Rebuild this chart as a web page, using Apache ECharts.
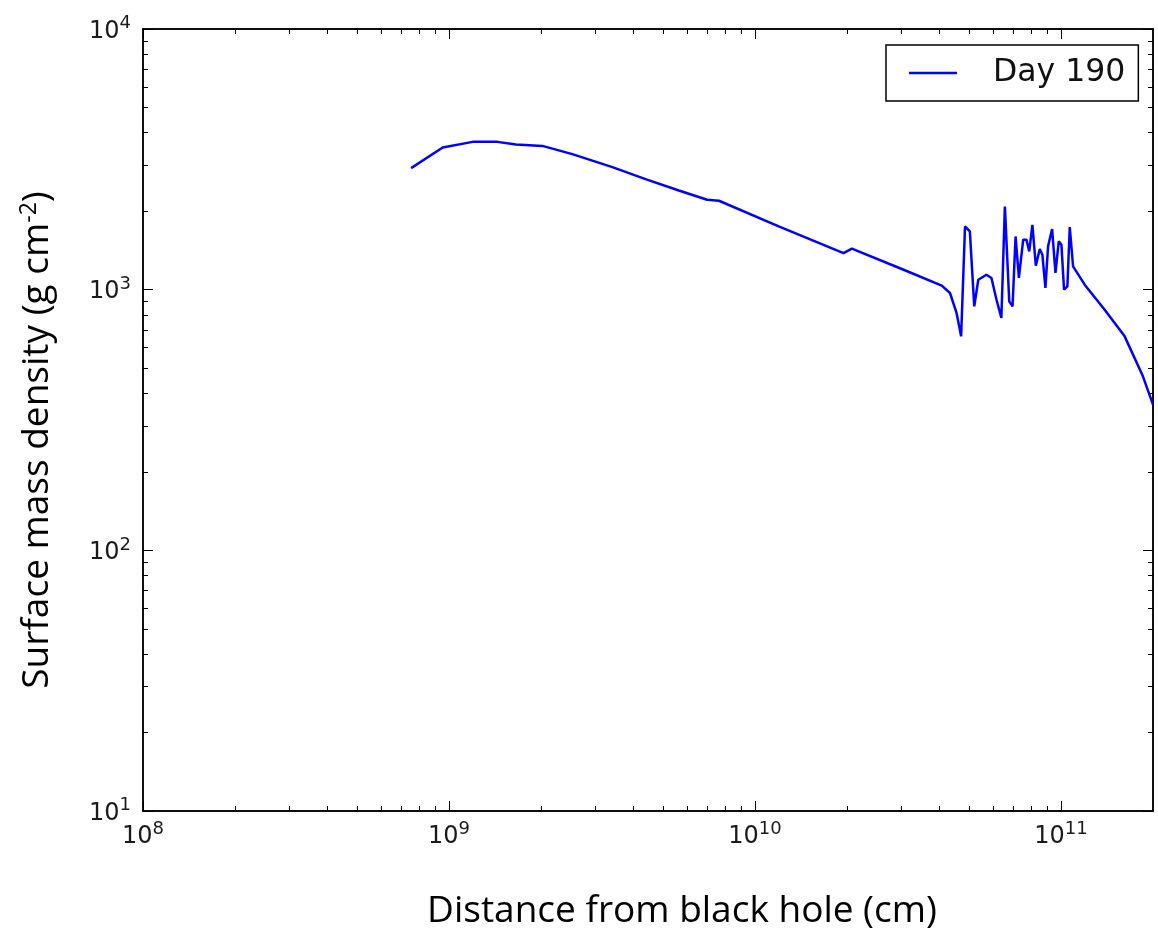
<!DOCTYPE html>
<html><head><meta charset="utf-8">
<script src="https://cdn.jsdelivr.net/npm/echarts@6/dist/echarts.min.js"></script>
<style>html,body{margin:0;padding:0;background:#fff}#c{width:1158px;height:934px}</style>
</head><body><div id="c"></div>
<script>
// ---- data ----
const seriesName = 'Day 190';
const distanceCm = [7.52e8, 9.54e8, 1.195e9, 1.44e9, 1.655e9, 2.02e9, 2.53e9, 3.42e9, 4.39e9, 5.64e9, 6.98e9, 7.63e9,
  1.196e10, 1.948e10, 2.074e10, 3.02e10, 4.08e10, 4.34e10, 4.56e10, 4.72e10, 4.86e10, 5.04e10, 5.21e10, 5.37e10,
  5.71e10, 5.93e10, 6.16e10, 6.39e10, 6.56e10, 6.78e10, 6.95e10, 7.11e10, 7.29e10, 7.53e10, 7.72e10, 7.88e10,
  8.07e10, 8.28e10, 8.53e10, 8.70e10, 8.90e10, 9.08e10, 9.36e10, 9.60e10, 9.84e10, 1.004e11, 1.024e11, 1.050e11,
  1.069e11, 1.096e11, 1.196e11, 1.39e11, 1.616e11, 1.854e11, 2.0e11];
const surfaceDensity = [2926, 3510, 3690, 3690, 3602, 3561, 3311, 2952, 2656, 2402, 2212, 2193,
  1748, 1382, 1436, 1200, 1036, 971, 814, 662, 1748, 1673, 863, 1092,
  1141, 1109, 915, 779, 2085, 902, 863, 1600, 1109, 1555, 1555, 1402,
  1774, 1236, 1432, 1362, 1015, 1466, 1709, 1159, 1532, 1487, 1000, 1029,
  1739, 1228, 1045, 838, 662, 465, 362];
const xMajorTicks = [1e8, 1e9, 1e10, 1e11];
const yMajorTicks = [1e1, 1e2, 1e3, 1e4];
const xMinorTicks = [2e8,3e8,4e8,5e8,6e8,7e8,8e8,9e8, 2e9,3e9,4e9,5e9,6e9,7e9,8e9,9e9, 2e10,3e10,4e10,5e10,6e10,7e10,8e10,9e10];
const yMinorTicks = [20,30,40,50,60,70,80,90, 200,300,400,500,600,700,800,900, 2000,3000,4000,5000,6000,7000,8000,9000];
const xRange = [1e8, 2e11];
const yRange = [1e1, 1e4];
const xTitle = 'Distance from black hole (cm)';
const yTitle = 'Surface mass density (g cm{sup|-2})';

// ---- chart ----
const tickFmt = v => '{b|10}{s|' + Math.round(Math.log10(v)) + '}';
const tickRich = {
  b: {fontSize: 24, fontFamily: 'DejaVu Sans', color: '#1a1a1a', verticalAlign: 'bottom'},
  s: {fontSize: 18, fontFamily: 'DejaVu Sans', color: '#1a1a1a', verticalAlign: 'bottom', padding: [0, 0, 11, 0]}
};
const titleFont = {fontFamily: 'Open Sans', fontSize: 37, color: '#000'};

function axis(dim, position, ticks, len, opts) {
  const range = dim === 'x' ? xRange : yRange;
  return Object.assign({
    type: 'log', logBase: 10, min: range[0], max: range[1], position: position,
    gridIndex: 0,
    axisLine: {show: true, onZero: false, lineStyle: {color: '#000', width: 1.5}},
    axisTick: {show: true, inside: true, length: len, customValues: ticks, lineStyle: {color: '#000', width: 1}},
    axisLabel: {show: false, customValues: ticks},
    splitLine: {show: false}, minorTick: {show: false}, minorSplitLine: {show: false}
  }, opts || {});
}

const chart = echarts.init(document.getElementById('c'), null, {renderer: 'canvas'});
chart.setOption({
  animation: false,
  backgroundColor: '#fff',
  grid: {left: 143, top: 29, right: 5, bottom: 123, containLabel: false, outerBoundsMode: 'none'},
  legend: {
    data: [seriesName], left: 886, top: 45, orient: 'horizontal',
    padding: [12, 13, 12, 23], borderColor: '#000', borderWidth: 1.5, borderRadius: 0,
    backgroundColor: '#fff',
    icon: 'rect', itemWidth: 48, itemHeight: 2.5,
    textStyle: {fontFamily: 'DejaVu Sans', fontSize: 31.5, color: '#111', padding: [0, 0, 0, 31]}
  },
  xAxis: [
    axis('x', 'bottom', xMajorTicks, 10, {
      axisLabel: {show: true, customValues: xMajorTicks, formatter: tickFmt, rich: tickRich, margin: 9},
      name: xTitle, nameLocation: 'middle', nameGap: 82,
      nameTextStyle: Object.assign({padding: [0, 0, 0, 68]}, titleFont)
    }),
    axis('x', 'bottom', xMinorTicks, 5),
    axis('x', 'top', xMajorTicks, 10),
    axis('x', 'top', xMinorTicks, 5)
  ],
  yAxis: [
    axis('y', 'left', yMajorTicks, 10, {
      axisLabel: {show: true, customValues: yMajorTicks, formatter: tickFmt, rich: tickRich, margin: 12},
      name: yTitle, nameLocation: 'middle', nameGap: 86, nameRotate: 90,
      nameTextStyle: Object.assign({padding: [0, 40, 0, 0],
        rich: {sup: {fontFamily: 'Open Sans', fontSize: 23, color: '#000', padding: [0, 0, 16, 0]}}}, titleFont)
    }),
    axis('y', 'left', yMinorTicks, 5),
    axis('y', 'right', yMajorTicks, 10),
    axis('y', 'right', yMinorTicks, 5)
  ],
  series: [{
    name: seriesName, type: 'line', xAxisIndex: 0, yAxisIndex: 0,
    data: distanceCm.map((d, i) => [d, surfaceDensity[i]]),
    showSymbol: false, symbol: 'none', smooth: false, clip: true,
    lineStyle: {color: '#0000ff', width: 2.5}, itemStyle: {color: '#0000ff'}
  }]
});
</script></body></html>
